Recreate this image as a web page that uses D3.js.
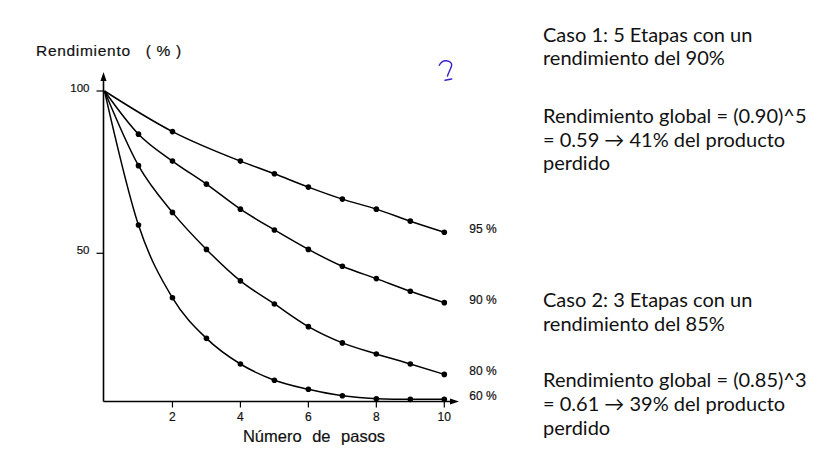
<!DOCTYPE html>
<html>
<head>
<meta charset="utf-8">
<script src="https://cdn.jsdelivr.net/npm/d3@7"></script>
<style>
  body { margin: 0; background: #fff; }
  svg { display: block; }
  .graf text { font-family: "Liberation Sans", Arial, sans-serif; fill: #111; stroke: #111; stroke-width: 0.2px; }
  .nota text { font-family: Lato, "Open Sans", sans-serif; fill: #111; font-size: 20px; }
</style>
</head>
<body>
<div id="graph"></div>
<script>
'use strict';

// numero de pasos (etapas)
const pasos = [1, 2, 3, 4, 5, 6, 7, 8, 9, 10];
const pasos95 = [2, 4, 5, 6, 7, 8, 9, 10];

// rendimiento global (%)
const rend95 = [87.5, 78.4, 74.5, 70.4, 66.7, 63.6, 59.9, 56.5];
const rend90 = [86.7, 78.4, 71.3, 63.6, 57.2, 51.2, 46.0, 42.2, 38.3, 34.8];
const rend80 = [77.0, 62.6, 51.2, 41.5, 34.4, 27.4, 22.4, 19.0, 15.9, 12.7];
const rend60 = [58.7, 36.3, 23.8, 15.9, 10.9, 8.1, 6.1, 5.2, 5.0, 5.0];

const etiquetas = ['95 %', '90 %', '80 %', '60 %'];
const xTicks = [2, 4, 6, 8, 10];
const yTicks = [50, 100];

const caso1 = ['Caso 1: 5 Etapas con un', 'rendimiento del 90%', '',
  'Rendimiento global = (0.90)^5', '= 0.59 \u2192 41% del producto', 'perdido'];
const caso2 = ['Caso 2: 3 Etapas con un', 'rendimiento del 85%', '',
  'Rendimiento global = (0.85)^3', '= 0.61 \u2192 39% del producto', 'perdido'];

let svgContainer = '';

function visualize() {
  svgContainer = d3.select('#graph')
    .append('svg')
    .attr('width', 835)
    .attr('height', 472);

  let g = svgContainer.append('g').attr('class', 'graf');
  let map = drawAxes(g);
  plotData(g, map);
  makeLabels(g, map);
  makeNotes();
}

function drawAxes(g) {
  let xScale = d3.scaleLinear()
    .domain([0, 10])
    .range([104.5, 444.3]);
  let yScale = d3.scaleLinear()
    .domain([0, 100])
    .range([415.6, 91]);

  const axisY = 401.5;   // linea base del grafico
  const x0 = xScale(0) - 1;

  // eje y con flecha
  g.append('line')
    .attr('x1', x0).attr('x2', x0)
    .attr('y1', axisY).attr('y2', 78)
    .attr('stroke', '#000').attr('stroke-width', 1.6);
  g.append('path')
    .attr('d', `M${x0},72 L${x0 - 3},81 L${x0 + 3},81 Z`)
    .attr('fill', '#000');

  // eje x con flecha
  g.append('line')
    .attr('x1', x0).attr('x2', 452)
    .attr('y1', axisY).attr('y2', axisY)
    .attr('stroke', '#000').attr('stroke-width', 1.6);
  g.append('path')
    .attr('d', `M459,${axisY} L450,${axisY - 3} L450,${axisY + 3} Z`)
    .attr('fill', '#000');

  g.selectAll('.xtick')
    .data(xTicks)
    .enter()
    .append('line')
    .attr('x1', d => xScale(d)).attr('x2', d => xScale(d))
    .attr('y1', axisY).attr('y2', axisY + 6)
    .attr('stroke', '#000').attr('stroke-width', 1.2);

  g.selectAll('.xlab')
    .data(xTicks)
    .enter()
    .append('text')
    .attr('x', d => xScale(d))
    .attr('y', axisY + 19)
    .attr('text-anchor', 'middle')
    .style('font-size', '12px')
    .text(d => d);

  g.selectAll('.ytick')
    .data(yTicks)
    .enter()
    .append('line')
    .attr('x1', x0 - 7).attr('x2', x0)
    .attr('y1', d => yScale(d)).attr('y2', d => yScale(d))
    .attr('stroke', '#000').attr('stroke-width', 1.2);

  g.selectAll('.ylab')
    .data(yTicks)
    .enter()
    .append('text')
    .attr('x', x0 - 14)
    .attr('y', d => yScale(d) + 0.5)
    .attr('text-anchor', 'end')
    .style('font-size', '11.5px')
    .text(d => d);

  return { x: xScale, y: yScale, axisY: axisY };
}

function plotData(g, map) {
  let series = [
    { pasos: pasos95, valores: rend95 },
    { pasos: pasos, valores: rend90 },
    { pasos: pasos, valores: rend80 },
    { pasos: pasos, valores: rend60 },
  ];

  let line = d3.line()
    .x(d => map.x(d[0]))
    .y(d => map.y(d[1]))
    .curve(d3.curveMonotoneX);

  series.forEach((s, i) => {
    let pts = s.pasos.map((p, j) => [p, s.valores[j]]);

    g.append('path')
      .datum([[0, 100], ...pts])
      .attr('d', line)
      .attr('fill', 'none')
      .attr('stroke', '#000')
      .attr('stroke-width', 1.5);

    g.selectAll('.dot' + i)
      .data(pts)
      .enter()
      .append('circle')
      .attr('cx', d => map.x(d[0]))
      .attr('cy', d => map.y(d[1]))
      .attr('r', 2.8)
      .attr('fill', '#000');

    let last = pts[pts.length - 1];
    g.append('text')
      .attr('x', map.x(10) + 25)
      .attr('y', map.y(last[1]) + 1)
      .style('font-size', '12px')
      .text(etiquetas[i]);
  });
}

function makeLabels(g, map) {
  g.append('text')
    .attr('x', 36)
    .attr('y', 56)
    .style('font-size', '15.5px')
    .style('letter-spacing', '0.7px')
    .attr('xml:space', 'preserve')
    .text('Rendimiento   ( % )');

  g.append('text')
    .attr('x', 314)
    .attr('y', 442)
    .attr('text-anchor', 'middle')
    .style('font-size', '16.5px')
    .style('word-spacing', '6px')
    .text('Número de pasos');

  // signo de interrogacion a mano (azul)
  g.append('path')
    .attr('d', 'M439.3,65.3 C441,62 444,60.5 446.5,60.8 C450,61.2 452.5,63 451.5,66 C450.5,69.5 448.5,72.5 447.5,76')
    .attr('fill', 'none')
    .attr('stroke', '#3a1fc8')
    .attr('stroke-width', 1.4)
    .attr('stroke-linecap', 'round');
  g.append('path')
    .attr('d', 'M445,80.3 L451.7,79')
    .attr('fill', 'none')
    .attr('stroke', '#3a1fc8')
    .attr('stroke-width', 1.4)
    .attr('stroke-linecap', 'round');
}

function makeNotes() {
  let notas = svgContainer.append('g').attr('class', 'nota');
  const lineas1 = [41.5, 64.5, 0, 122.5, 146.5, 169.5];
  const lineas2 = [306.5, 330.5, 0, 386.5, 410.5, 434.5];

  notas.selectAll('.c1')
    .data(caso1)
    .enter()
    .append('text')
    .attr('x', 543)
    .attr('y', (d, i) => lineas1[i])
    .text(d => d);

  notas.selectAll('.c2')
    .data(caso2)
    .enter()
    .append('text')
    .attr('x', 543)
    .attr('y', (d, i) => lineas2[i])
    .text(d => d);
}

visualize();
</script>
</body>
</html>
